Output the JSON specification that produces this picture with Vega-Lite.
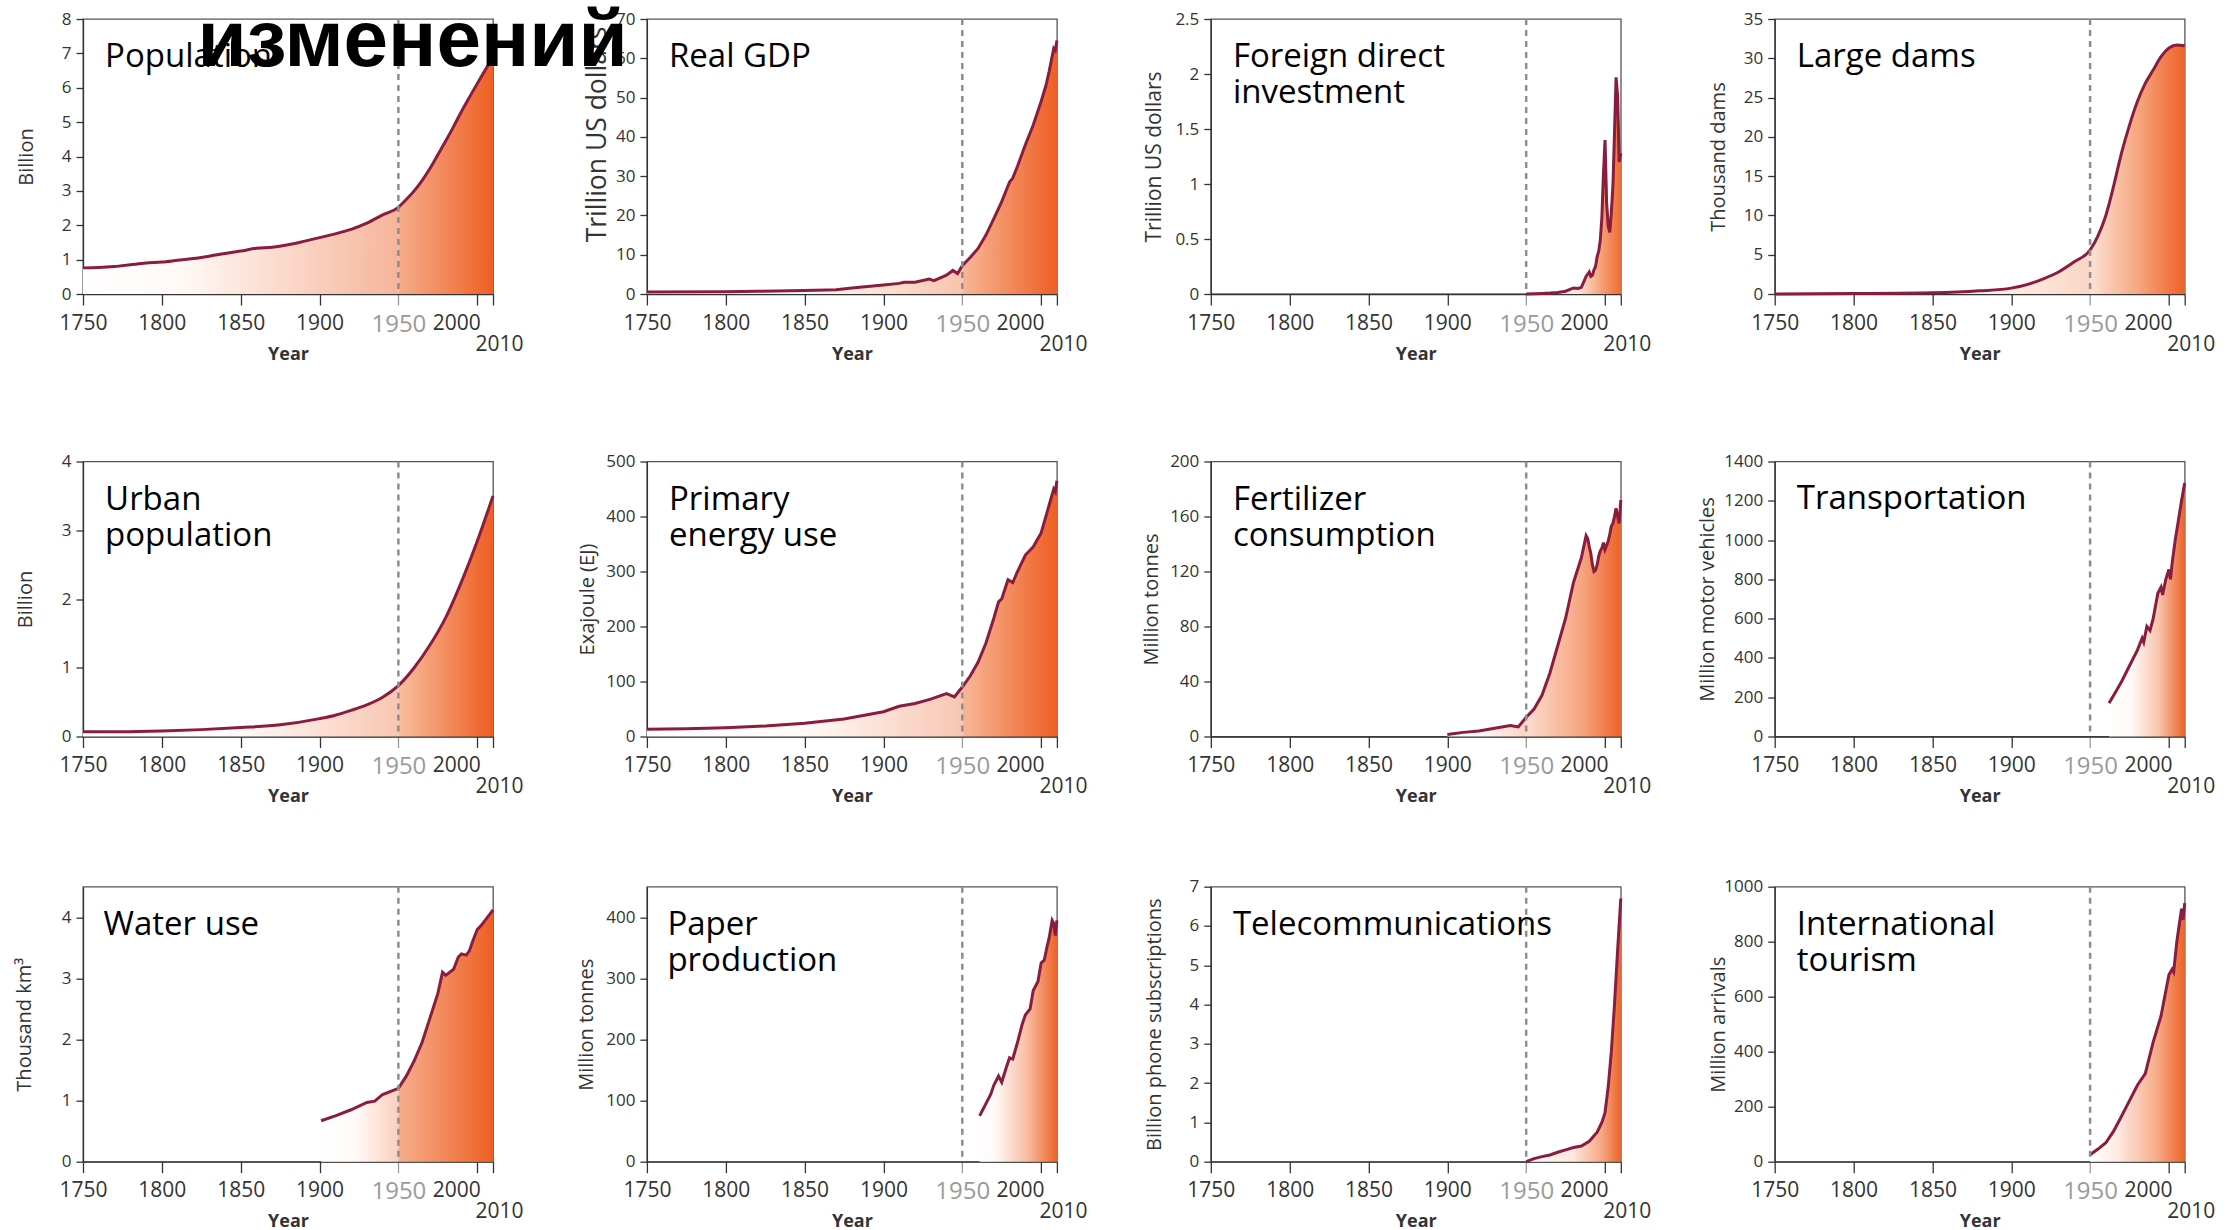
{
  "$schema": "https://vega.github.io/schema/vega-lite/v6.json",
  "background": "white",
  "padding": {"left": 13, "top": 1, "right": 0, "bottom": 0},
  "datasets": {
    "population": [
      {"year": 1750, "value": 0.76}, {"year": 1760, "value": 0.77}, {"year": 1770, "value": 0.8}, {"year": 1780, "value": 0.85},
      {"year": 1790, "value": 0.9}, {"year": 1800, "value": 0.93}, {"year": 1810, "value": 0.98}, {"year": 1820, "value": 1.03},
      {"year": 1830, "value": 1.1}, {"year": 1840, "value": 1.18}, {"year": 1850, "value": 1.25}, {"year": 1860, "value": 1.33},
      {"year": 1870, "value": 1.36}, {"year": 1880, "value": 1.43}, {"year": 1890, "value": 1.53}, {"year": 1900, "value": 1.64},
      {"year": 1910, "value": 1.75}, {"year": 1920, "value": 1.88}, {"year": 1930, "value": 2.06}, {"year": 1940, "value": 2.3},
      {"year": 1950, "value": 2.52}, {"year": 1955, "value": 2.75}, {"year": 1960, "value": 3.0}, {"year": 1965, "value": 3.3},
      {"year": 1970, "value": 3.65}, {"year": 1975, "value": 4.05}, {"year": 1980, "value": 4.45}, {"year": 1985, "value": 4.87},
      {"year": 1990, "value": 5.31}, {"year": 1995, "value": 5.72}, {"year": 2000, "value": 6.12}, {"year": 2005, "value": 6.51},
      {"year": 2010, "value": 6.9}
    ],
    "gdp": [
      {"year": 1750, "value": 0.5}, {"year": 1800, "value": 0.6}, {"year": 1820, "value": 0.7}, {"year": 1850, "value": 0.9},
      {"year": 1870, "value": 1.1}, {"year": 1880, "value": 1.5}, {"year": 1890, "value": 1.9}, {"year": 1900, "value": 2.3},
      {"year": 1910, "value": 2.7}, {"year": 1913, "value": 3.0}, {"year": 1920, "value": 3.0}, {"year": 1929, "value": 3.8},
      {"year": 1932, "value": 3.4}, {"year": 1940, "value": 4.8}, {"year": 1944, "value": 6.0}, {"year": 1947, "value": 5.2},
      {"year": 1950, "value": 7.2}, {"year": 1955, "value": 9.3}, {"year": 1960, "value": 11.6}, {"year": 1965, "value": 15.0},
      {"year": 1970, "value": 19.2}, {"year": 1975, "value": 23.5}, {"year": 1980, "value": 28.5}, {"year": 1982, "value": 29.5},
      {"year": 1985, "value": 32.5}, {"year": 1990, "value": 38.0}, {"year": 1995, "value": 43.0}, {"year": 2000, "value": 49.0},
      {"year": 2003, "value": 53.0}, {"year": 2005, "value": 56.5}, {"year": 2008, "value": 62.5}, {"year": 2009, "value": 62.0},
      {"year": 2010, "value": 64.5}
    ],
    "fdi": [
      {"year": 1950, "value": 0.0}, {"year": 1955, "value": 0.003}, {"year": 1960, "value": 0.005}, {"year": 1965, "value": 0.008},
      {"year": 1970, "value": 0.013}, {"year": 1975, "value": 0.025}, {"year": 1980, "value": 0.055}, {"year": 1983, "value": 0.05},
      {"year": 1985, "value": 0.06}, {"year": 1988, "value": 0.16}, {"year": 1990, "value": 0.2}, {"year": 1991, "value": 0.16},
      {"year": 1992, "value": 0.17}, {"year": 1993, "value": 0.22}, {"year": 1994, "value": 0.25}, {"year": 1995, "value": 0.34},
      {"year": 1996, "value": 0.39}, {"year": 1997, "value": 0.49}, {"year": 1998, "value": 0.7}, {"year": 1999, "value": 1.09},
      {"year": 2000, "value": 1.4}, {"year": 2001, "value": 0.83}, {"year": 2002, "value": 0.62}, {"year": 2003, "value": 0.56},
      {"year": 2004, "value": 0.74}, {"year": 2005, "value": 0.98}, {"year": 2006, "value": 1.46}, {"year": 2007, "value": 1.97},
      {"year": 2008, "value": 1.8}, {"year": 2009, "value": 1.2}, {"year": 2010, "value": 1.28}
    ],
    "dams": [
      {"year": 1750, "value": 0.0}, {"year": 1800, "value": 0.05}, {"year": 1850, "value": 0.15}, {"year": 1880, "value": 0.4},
      {"year": 1900, "value": 0.75}, {"year": 1910, "value": 1.2}, {"year": 1920, "value": 1.9}, {"year": 1930, "value": 2.8},
      {"year": 1940, "value": 4.1}, {"year": 1950, "value": 5.6}, {"year": 1955, "value": 7.4}, {"year": 1960, "value": 10.0},
      {"year": 1965, "value": 13.8}, {"year": 1970, "value": 18.0}, {"year": 1975, "value": 21.5}, {"year": 1980, "value": 24.5},
      {"year": 1985, "value": 26.8}, {"year": 1990, "value": 28.5}, {"year": 1995, "value": 30.2}, {"year": 2000, "value": 31.3},
      {"year": 2005, "value": 31.7}, {"year": 2010, "value": 31.6}
    ],
    "urban": [
      {"year": 1750, "value": 0.07}, {"year": 1775, "value": 0.07}, {"year": 1800, "value": 0.08}, {"year": 1825, "value": 0.1},
      {"year": 1850, "value": 0.13}, {"year": 1875, "value": 0.17}, {"year": 1900, "value": 0.26}, {"year": 1910, "value": 0.31},
      {"year": 1920, "value": 0.38}, {"year": 1930, "value": 0.46}, {"year": 1940, "value": 0.57}, {"year": 1950, "value": 0.74},
      {"year": 1960, "value": 1.0}, {"year": 1970, "value": 1.33}, {"year": 1980, "value": 1.73}, {"year": 1990, "value": 2.25},
      {"year": 2000, "value": 2.84}, {"year": 2010, "value": 3.5}
    ],
    "energy": [
      {"year": 1750, "value": 13}, {"year": 1775, "value": 14}, {"year": 1800, "value": 16}, {"year": 1825, "value": 19},
      {"year": 1850, "value": 24}, {"year": 1875, "value": 32}, {"year": 1900, "value": 45}, {"year": 1910, "value": 55},
      {"year": 1920, "value": 60}, {"year": 1930, "value": 68}, {"year": 1940, "value": 78}, {"year": 1945, "value": 72},
      {"year": 1950, "value": 90}, {"year": 1955, "value": 110}, {"year": 1960, "value": 135}, {"year": 1965, "value": 170},
      {"year": 1970, "value": 215}, {"year": 1973, "value": 245}, {"year": 1975, "value": 250}, {"year": 1979, "value": 285},
      {"year": 1982, "value": 280}, {"year": 1985, "value": 300}, {"year": 1990, "value": 330}, {"year": 1995, "value": 345},
      {"year": 2000, "value": 370}, {"year": 2005, "value": 420}, {"year": 2008, "value": 450}, {"year": 2009, "value": 445},
      {"year": 2010, "value": 465}
    ],
    "fertilizer": [
      {"year": 1900, "value": 1.5}, {"year": 1910, "value": 3}, {"year": 1920, "value": 4}, {"year": 1930, "value": 6},
      {"year": 1940, "value": 8}, {"year": 1945, "value": 7}, {"year": 1950, "value": 14}, {"year": 1955, "value": 20},
      {"year": 1960, "value": 30}, {"year": 1965, "value": 46}, {"year": 1970, "value": 66}, {"year": 1975, "value": 86},
      {"year": 1980, "value": 112}, {"year": 1985, "value": 130}, {"year": 1988, "value": 146}, {"year": 1989, "value": 144},
      {"year": 1990, "value": 138}, {"year": 1991, "value": 133}, {"year": 1992, "value": 125}, {"year": 1993, "value": 120},
      {"year": 1994, "value": 121}, {"year": 1995, "value": 125}, {"year": 1996, "value": 131}, {"year": 1997, "value": 135},
      {"year": 1998, "value": 137}, {"year": 1999, "value": 141}, {"year": 2000, "value": 136}, {"year": 2001, "value": 139},
      {"year": 2002, "value": 142}, {"year": 2003, "value": 147}, {"year": 2004, "value": 153}, {"year": 2005, "value": 155},
      {"year": 2006, "value": 160}, {"year": 2007, "value": 166}, {"year": 2008, "value": 160}, {"year": 2009, "value": 155},
      {"year": 2010, "value": 172}
    ],
    "transport": [
      {"year": 1962, "value": 170}, {"year": 1965, "value": 210}, {"year": 1970, "value": 280}, {"year": 1975, "value": 360},
      {"year": 1980, "value": 440}, {"year": 1983, "value": 500}, {"year": 1984, "value": 480}, {"year": 1986, "value": 560},
      {"year": 1988, "value": 540}, {"year": 1990, "value": 600}, {"year": 1993, "value": 730}, {"year": 1995, "value": 760},
      {"year": 1996, "value": 720}, {"year": 1998, "value": 800}, {"year": 2000, "value": 850}, {"year": 2001, "value": 800},
      {"year": 2002, "value": 880}, {"year": 2004, "value": 1000}, {"year": 2006, "value": 1100}, {"year": 2008, "value": 1200},
      {"year": 2010, "value": 1290}
    ],
    "water": [
      {"year": 1901, "value": 0.67}, {"year": 1910, "value": 0.75}, {"year": 1920, "value": 0.85}, {"year": 1930, "value": 0.97},
      {"year": 1935, "value": 0.99}, {"year": 1940, "value": 1.1}, {"year": 1950, "value": 1.2}, {"year": 1955, "value": 1.4},
      {"year": 1960, "value": 1.65}, {"year": 1965, "value": 1.95}, {"year": 1970, "value": 2.35}, {"year": 1975, "value": 2.75},
      {"year": 1978, "value": 3.1}, {"year": 1980, "value": 3.05}, {"year": 1985, "value": 3.15}, {"year": 1988, "value": 3.35},
      {"year": 1990, "value": 3.4}, {"year": 1993, "value": 3.38}, {"year": 1995, "value": 3.45}, {"year": 1997, "value": 3.6},
      {"year": 2000, "value": 3.8}, {"year": 2002, "value": 3.85}, {"year": 2005, "value": 3.95}, {"year": 2008, "value": 4.05},
      {"year": 2010, "value": 4.12}
    ],
    "paper": [
      {"year": 1961, "value": 75}, {"year": 1963, "value": 85}, {"year": 1965, "value": 95}, {"year": 1968, "value": 110},
      {"year": 1970, "value": 125}, {"year": 1973, "value": 140}, {"year": 1975, "value": 130}, {"year": 1978, "value": 155},
      {"year": 1980, "value": 170}, {"year": 1982, "value": 168}, {"year": 1985, "value": 195}, {"year": 1988, "value": 225},
      {"year": 1990, "value": 240}, {"year": 1993, "value": 250}, {"year": 1995, "value": 280}, {"year": 1998, "value": 295},
      {"year": 2000, "value": 325}, {"year": 2002, "value": 330}, {"year": 2004, "value": 355}, {"year": 2005, "value": 365},
      {"year": 2007, "value": 395}, {"year": 2008, "value": 390}, {"year": 2009, "value": 370}, {"year": 2010, "value": 395}
    ],
    "telecom": [
      {"year": 1950, "value": 0.0}, {"year": 1955, "value": 0.08}, {"year": 1960, "value": 0.13}, {"year": 1965, "value": 0.17},
      {"year": 1970, "value": 0.24}, {"year": 1975, "value": 0.3}, {"year": 1980, "value": 0.36}, {"year": 1985, "value": 0.4},
      {"year": 1990, "value": 0.52}, {"year": 1995, "value": 0.75}, {"year": 1998, "value": 1.0}, {"year": 2000, "value": 1.25},
      {"year": 2002, "value": 1.9}, {"year": 2004, "value": 2.8}, {"year": 2006, "value": 4.0}, {"year": 2008, "value": 5.4},
      {"year": 2010, "value": 6.7}
    ],
    "tourism": [
      {"year": 1950, "value": 25}, {"year": 1955, "value": 46}, {"year": 1960, "value": 69}, {"year": 1965, "value": 112},
      {"year": 1970, "value": 166}, {"year": 1975, "value": 222}, {"year": 1980, "value": 278}, {"year": 1985, "value": 320},
      {"year": 1990, "value": 435}, {"year": 1995, "value": 530}, {"year": 2000, "value": 680}, {"year": 2002, "value": 700},
      {"year": 2003, "value": 690}, {"year": 2005, "value": 800}, {"year": 2008, "value": 920}, {"year": 2009, "value": 880},
      {"year": 2010, "value": 940}
    ]
  },
  "spacing": 87.5,
  "vconcat": [
    {
      "bounds": "flush",
      "spacing": 153.9,
      "hconcat": [
        {
          "width": 410, "height": 275,
          "layer": [
            {
              "data": {"name": "population"},
              "encoding": {
                "x": {"field": "year", "type": "quantitative", "scale": {"domain": [1750, 2010], "nice": false, "zero": false}, "axis": {"values": [1750, 1800, 1850, 1900, 1950, 2000, 2010], "format": "d", "title": "Year"}},
                "y": {"field": "value", "type": "quantitative", "scale": {"domain": [0, 8], "nice": false}, "axis": {"values": [0, 1, 2, 3, 4, 5, 6, 7, 8], "tickCount": 20, "format": "d", "title": "Billion", "titleX": -47}}
              },
              "layer": [
                {"transform": [{"filter": "datum.year <= 1950"}], "mark": {"type": "area", "interpolate": "monotone", "fill": {"gradient": "linear", "x1": 0, "y1": 0, "x2": 1, "y2": 0, "stops": [{"offset": 0, "color": "#ffffff"}, {"offset": 0.3, "color": "#fffaf7"}, {"offset": 1, "color": "#f6b59b"}]}}},
                {"transform": [{"filter": "datum.year >= 1950"}], "mark": {"type": "area", "interpolate": "monotone", "fill": {"gradient": "linear", "x1": 0, "y1": 0, "x2": 1, "y2": 0, "stops": [{"offset": 0, "color": "#f6ad8b"}, {"offset": 0.8, "color": "#f0703a"}, {"offset": 1, "color": "#ee5f23"}]}}},
                {"mark": {"type": "line", "interpolate": "monotone", "color": "#8a1c3e", "strokeWidth": 3}}
              ]
            },
            {"data": {"values": [{}]}, "mark": {"type": "rule", "color": "#8e8e8e", "strokeWidth": 2.5, "strokeDash": [6, 5]}, "encoding": {"x": {"datum": 1950}}},
            {"data": {"values": [{"label": "Population"}]}, "mark": {"type": "text", "style": "panelLabel"}, "encoding": {"x": {"datum": 1764}, "y": {"datum": 6.6}, "text": {"field": "label"}}}
          ]
        },
        {
          "width": 410, "height": 275,
          "layer": [
            {
              "data": {"name": "gdp"},
              "encoding": {
                "x": {"field": "year", "type": "quantitative", "scale": {"domain": [1750, 2010], "nice": false, "zero": false}, "axis": {"values": [1750, 1800, 1850, 1900, 1950, 2000, 2010], "format": "d", "title": "Year"}},
                "y": {"field": "value", "type": "quantitative", "scale": {"domain": [0, 70], "nice": false}, "axis": {"values": [0, 10, 20, 30, 40, 50, 60, 70], "tickCount": 20, "format": "d", "title": "Trillion US dollars", "titleFontSize": 26.5, "titleX": -35, "titleY": 115}}
              },
              "layer": [
                {"transform": [{"filter": "datum.year <= 1950"}], "mark": {"type": "area", "fill": {"gradient": "linear", "x1": 0, "y1": 0, "x2": 1, "y2": 0, "stops": [{"offset": 0, "color": "#ffffff"}, {"offset": 0.5, "color": "#fffaf7"}, {"offset": 1, "color": "#f8c4ad"}]}}},
                {"transform": [{"filter": "datum.year >= 1950"}], "mark": {"type": "area", "fill": {"gradient": "linear", "x1": 0, "y1": 0, "x2": 1, "y2": 0, "stops": [{"offset": 0, "color": "#f7b797"}, {"offset": 0.8, "color": "#f0703a"}, {"offset": 1, "color": "#ee5f23"}]}}},
                {"mark": {"type": "line", "color": "#8a1c3e", "strokeWidth": 3}}
              ]
            },
            {"data": {"values": [{}]}, "mark": {"type": "rule", "color": "#8e8e8e", "strokeWidth": 2.5, "strokeDash": [6, 5]}, "encoding": {"x": {"datum": 1950}}},
            {"data": {"values": [{"label": "Real GDP"}]}, "mark": {"type": "text", "style": "panelLabel"}, "encoding": {"x": {"datum": 1764}, "y": {"datum": 57.8}, "text": {"field": "label"}}},
            {"data": {"values": [{"label": "изменений"}]}, "mark": {"type": "text", "style": "heading"}, "encoding": {"x": {"datum": 1465}, "y": {"datum": 58.0}, "text": {"field": "label"}}}
          ]
        },
        {
          "width": 410, "height": 275,
          "layer": [
            {
              "data": {"name": "fdi"},
              "encoding": {
                "x": {"field": "year", "type": "quantitative", "scale": {"domain": [1750, 2010], "nice": false, "zero": false}, "axis": {"values": [1750, 1800, 1850, 1900, 1950, 2000, 2010], "format": "d", "title": "Year"}},
                "y": {"field": "value", "type": "quantitative", "scale": {"domain": [0, 2.5], "nice": false}, "axis": {"values": [0, 0.5, 1, 1.5, 2, 2.5], "tickCount": 20, "format": ".1~f", "title": "Trillion US dollars", "titleFontSize": 21, "titleX": -46}}
              },
              "layer": [
                {"mark": {"type": "area", "fill": {"gradient": "linear", "x1": 0, "y1": 0, "x2": 1, "y2": 0, "stops": [{"offset": 0, "color": "#ffffff"}, {"offset": 0.55, "color": "#fde4d8"}, {"offset": 0.8, "color": "#f5a074"}, {"offset": 1, "color": "#ef6c30"}]}}},
                {"mark": {"type": "line", "color": "#8a1c3e", "strokeWidth": 3}}
              ]
            },
            {"data": {"values": [{}]}, "mark": {"type": "rule", "color": "#8e8e8e", "strokeWidth": 2.5, "strokeDash": [6, 5]}, "encoding": {"x": {"datum": 1950}}},
            {"data": {"values": [{"label": "Foreign direct\ninvestment"}]}, "mark": {"type": "text", "style": "panelLabel"}, "encoding": {"x": {"datum": 1764}, "y": {"datum": 2.06}, "text": {"field": "label"}}}
          ]
        },
        {
          "width": 410, "height": 275,
          "layer": [
            {
              "data": {"name": "dams"},
              "encoding": {
                "x": {"field": "year", "type": "quantitative", "scale": {"domain": [1750, 2010], "nice": false, "zero": false}, "axis": {"values": [1750, 1800, 1850, 1900, 1950, 2000, 2010], "format": "d", "title": "Year"}},
                "y": {"field": "value", "type": "quantitative", "scale": {"domain": [0, 35], "nice": false}, "axis": {"values": [0, 5, 10, 15, 20, 25, 30, 35], "tickCount": 20, "format": "d", "title": "Thousand dams", "titleX": -46}}
              },
              "layer": [
                {"transform": [{"filter": "datum.year <= 1950"}], "mark": {"type": "area", "interpolate": "monotone", "fill": {"gradient": "linear", "x1": 0, "y1": 0, "x2": 1, "y2": 0, "stops": [{"offset": 0, "color": "#ffffff"}, {"offset": 0.6, "color": "#fffaf7"}, {"offset": 1, "color": "#fbd5c5"}]}}},
                {"transform": [{"filter": "datum.year >= 1950"}], "mark": {"type": "area", "interpolate": "monotone", "fill": {"gradient": "linear", "x1": 0, "y1": 0, "x2": 1, "y2": 0, "stops": [{"offset": 0, "color": "#fde2d6"}, {"offset": 0.5, "color": "#f6a781"}, {"offset": 1, "color": "#ee6126"}]}}},
                {"mark": {"type": "line", "interpolate": "monotone", "color": "#8a1c3e", "strokeWidth": 3}}
              ]
            },
            {"data": {"values": [{}]}, "mark": {"type": "rule", "color": "#8e8e8e", "strokeWidth": 2.5, "strokeDash": [6, 5]}, "encoding": {"x": {"datum": 1950}}},
            {"data": {"values": [{"label": "Large dams"}]}, "mark": {"type": "text", "style": "panelLabel"}, "encoding": {"x": {"datum": 1764}, "y": {"datum": 28.9}, "text": {"field": "label"}}}
          ]
        }
      ]
    },
    {
      "spacing": 70.2,
      "vconcat": [
        {
          "bounds": "flush",
          "spacing": 153.9,
          "hconcat": [
            {
              "width": 410, "height": 275,
              "layer": [
                {
                  "data": {"name": "urban"},
                  "encoding": {
                    "x": {"field": "year", "type": "quantitative", "scale": {"domain": [1750, 2010], "nice": false, "zero": false}, "axis": {"values": [1750, 1800, 1850, 1900, 1950, 2000, 2010], "format": "d", "title": "Year"}},
                    "y": {"field": "value", "type": "quantitative", "scale": {"domain": [0, 4], "nice": false}, "axis": {"values": [0, 1, 2, 3, 4], "tickCount": 20, "format": "d", "title": "Billion", "titleX": -48}}
                  },
                  "layer": [
                    {"transform": [{"filter": "datum.year <= 1950"}], "mark": {"type": "area", "interpolate": "monotone", "fill": {"gradient": "linear", "x1": 0, "y1": 0, "x2": 1, "y2": 0, "stops": [{"offset": 0, "color": "#ffffff"}, {"offset": 0.5, "color": "#fffaf7"}, {"offset": 1, "color": "#f8c6b2"}]}}},
                    {"transform": [{"filter": "datum.year >= 1950"}], "mark": {"type": "area", "interpolate": "monotone", "fill": {"gradient": "linear", "x1": 0, "y1": 0, "x2": 1, "y2": 0, "stops": [{"offset": 0, "color": "#f8bf9f"}, {"offset": 0.8, "color": "#f0703a"}, {"offset": 1, "color": "#ee5f23"}]}}},
                    {"mark": {"type": "line", "interpolate": "monotone", "color": "#8a1c3e", "strokeWidth": 3}}
                  ]
                },
                {"data": {"values": [{}]}, "mark": {"type": "rule", "color": "#8e8e8e", "strokeWidth": 2.5, "strokeDash": [6, 5]}, "encoding": {"x": {"datum": 1950}}},
                {"data": {"values": [{"label": "Urban\npopulation"}]}, "mark": {"type": "text", "style": "panelLabel"}, "encoding": {"x": {"datum": 1764}, "y": {"datum": 3.3}, "text": {"field": "label"}}}
              ]
            },
            {
              "width": 410, "height": 275,
              "layer": [
                {
                  "data": {"name": "energy"},
                  "encoding": {
                    "x": {"field": "year", "type": "quantitative", "scale": {"domain": [1750, 2010], "nice": false, "zero": false}, "axis": {"values": [1750, 1800, 1850, 1900, 1950, 2000, 2010], "format": "d", "title": "Year"}},
                    "y": {"field": "value", "type": "quantitative", "scale": {"domain": [0, 500], "nice": false}, "axis": {"values": [0, 100, 200, 300, 400, 500], "tickCount": 20, "format": "d", "title": "Exajoule (EJ)", "titleX": -49}}
                  },
                  "layer": [
                    {"transform": [{"filter": "datum.year <= 1950"}], "mark": {"type": "area", "fill": {"gradient": "linear", "x1": 0, "y1": 0, "x2": 1, "y2": 0, "stops": [{"offset": 0, "color": "#ffffff"}, {"offset": 0.5, "color": "#fffaf7"}, {"offset": 1, "color": "#f8c6b2"}]}}},
                    {"transform": [{"filter": "datum.year >= 1950"}], "mark": {"type": "area", "fill": {"gradient": "linear", "x1": 0, "y1": 0, "x2": 1, "y2": 0, "stops": [{"offset": 0, "color": "#f8b898"}, {"offset": 0.8, "color": "#f0703a"}, {"offset": 1, "color": "#ee5f23"}]}}},
                    {"mark": {"type": "line", "color": "#8a1c3e", "strokeWidth": 3}}
                  ]
                },
                {"data": {"values": [{}]}, "mark": {"type": "rule", "color": "#8e8e8e", "strokeWidth": 2.5, "strokeDash": [6, 5]}, "encoding": {"x": {"datum": 1950}}},
                {"data": {"values": [{"label": "Primary\nenergy use"}]}, "mark": {"type": "text", "style": "panelLabel"}, "encoding": {"x": {"datum": 1764}, "y": {"datum": 412.7}, "text": {"field": "label"}}}
              ]
            },
            {
              "width": 410, "height": 275,
              "layer": [
                {
                  "data": {"name": "fertilizer"},
                  "encoding": {
                    "x": {"field": "year", "type": "quantitative", "scale": {"domain": [1750, 2010], "nice": false, "zero": false}, "axis": {"values": [1750, 1800, 1850, 1900, 1950, 2000, 2010], "format": "d", "title": "Year"}},
                    "y": {"field": "value", "type": "quantitative", "scale": {"domain": [0, 200], "nice": false}, "axis": {"values": [0, 40, 80, 120, 160, 200], "tickCount": 20, "format": "d", "title": "Million tonnes", "titleX": -49}}
                  },
                  "layer": [
                    {"transform": [{"filter": "datum.year <= 1950"}], "mark": {"type": "area", "fill": {"gradient": "linear", "x1": 0, "y1": 0, "x2": 1, "y2": 0, "stops": [{"offset": 0, "color": "#ffffff"}, {"offset": 0.4, "color": "#fffaf7"}, {"offset": 1, "color": "#fbd3c3"}]}}},
                    {"transform": [{"filter": "datum.year >= 1950"}], "mark": {"type": "area", "fill": {"gradient": "linear", "x1": 0, "y1": 0, "x2": 1, "y2": 0, "stops": [{"offset": 0, "color": "#fcdccd"}, {"offset": 0.6, "color": "#f6a47e"}, {"offset": 1, "color": "#ee6328"}]}}},
                    {"mark": {"type": "line", "color": "#8a1c3e", "strokeWidth": 3}}
                  ]
                },
                {"data": {"values": [{}]}, "mark": {"type": "rule", "color": "#8e8e8e", "strokeWidth": 2.5, "strokeDash": [6, 5]}, "encoding": {"x": {"datum": 1950}}},
                {"data": {"values": [{"label": "Fertilizer\nconsumption"}]}, "mark": {"type": "text", "style": "panelLabel"}, "encoding": {"x": {"datum": 1764}, "y": {"datum": 165}, "text": {"field": "label"}}}
              ]
            },
            {
              "width": 410, "height": 275,
              "layer": [
                {
                  "data": {"name": "transport"},
                  "encoding": {
                    "x": {"field": "year", "type": "quantitative", "scale": {"domain": [1750, 2010], "nice": false, "zero": false}, "axis": {"values": [1750, 1800, 1850, 1900, 1950, 2000, 2010], "format": "d", "title": "Year"}},
                    "y": {"field": "value", "type": "quantitative", "scale": {"domain": [0, 1400], "nice": false}, "axis": {"values": [0, 200, 400, 600, 800, 1000, 1200, 1400], "tickCount": 20, "format": "d", "title": "Million motor vehicles", "titleX": -57}}
                  },
                  "layer": [
                    {"mark": {"type": "area", "fill": {"gradient": "linear", "x1": 0, "y1": 0, "x2": 1, "y2": 0, "stops": [{"offset": 0, "color": "#ffffff"}, {"offset": 0.3, "color": "#fffaf7"}, {"offset": 0.65, "color": "#f9c6ad"}, {"offset": 1, "color": "#ee6328"}]}}},
                    {"mark": {"type": "line", "color": "#8a1c3e", "strokeWidth": 3}}
                  ]
                },
                {"data": {"values": [{}]}, "mark": {"type": "rule", "color": "#8e8e8e", "strokeWidth": 2.5, "strokeDash": [6, 5]}, "encoding": {"x": {"datum": 1950}}},
                {"data": {"values": [{"label": "Transportation"}]}, "mark": {"type": "text", "style": "panelLabel"}, "encoding": {"x": {"datum": 1764}, "y": {"datum": 1155.7}, "text": {"field": "label"}}}
              ]
            }
          ]
        },
        {
          "bounds": "flush",
          "spacing": 153.9,
          "hconcat": [
            {
              "width": 410, "height": 275,
              "layer": [
                {
                  "data": {"name": "water"},
                  "encoding": {
                    "x": {"field": "year", "type": "quantitative", "scale": {"domain": [1750, 2010], "nice": false, "zero": false}, "axis": {"values": [1750, 1800, 1850, 1900, 1950, 2000, 2010], "format": "d", "title": "Year"}},
                    "y": {"field": "value", "type": "quantitative", "scale": {"domain": [0, 4.5], "nice": false}, "axis": {"values": [0, 1, 2, 3, 4], "tickCount": 20, "format": "d", "title": "Thousand km³", "titleX": -49}}
                  },
                  "layer": [
                    {"transform": [{"filter": "datum.year <= 1950"}], "mark": {"type": "area", "fill": {"gradient": "linear", "x1": 0, "y1": 0, "x2": 1, "y2": 0, "stops": [{"offset": 0, "color": "#ffffff"}, {"offset": 0.45, "color": "#fffaf7"}, {"offset": 1, "color": "#fbcfbd"}]}}},
                    {"transform": [{"filter": "datum.year >= 1950"}], "mark": {"type": "area", "fill": {"gradient": "linear", "x1": 0, "y1": 0, "x2": 1, "y2": 0, "stops": [{"offset": 0, "color": "#f6ae8c"}, {"offset": 0.8, "color": "#f0703a"}, {"offset": 1, "color": "#ee5f23"}]}}},
                    {"mark": {"type": "line", "color": "#8a1c3e", "strokeWidth": 3}}
                  ]
                },
                {"data": {"values": [{}]}, "mark": {"type": "rule", "color": "#8e8e8e", "strokeWidth": 2.5, "strokeDash": [6, 5]}, "encoding": {"x": {"datum": 1950}}},
                {"data": {"values": [{"label": "Water use"}]}, "mark": {"type": "text", "style": "panelLabel"}, "encoding": {"x": {"datum": 1763}, "y": {"datum": 3.71}, "text": {"field": "label"}}}
              ]
            },
            {
              "width": 410, "height": 275,
              "layer": [
                {
                  "data": {"name": "paper"},
                  "encoding": {
                    "x": {"field": "year", "type": "quantitative", "scale": {"domain": [1750, 2010], "nice": false, "zero": false}, "axis": {"values": [1750, 1800, 1850, 1900, 1950, 2000, 2010], "format": "d", "title": "Year"}},
                    "y": {"field": "value", "type": "quantitative", "scale": {"domain": [0, 450], "nice": false}, "axis": {"values": [0, 100, 200, 300, 400], "tickCount": 20, "format": "d", "title": "Million tonnes", "titleX": -50}}
                  },
                  "layer": [
                    {"mark": {"type": "area", "fill": {"gradient": "linear", "x1": 0, "y1": 0, "x2": 1, "y2": 0, "stops": [{"offset": 0, "color": "#ffffff"}, {"offset": 0.2, "color": "#fffaf7"}, {"offset": 0.6, "color": "#f8c0a5"}, {"offset": 1, "color": "#ee6328"}]}}},
                    {"mark": {"type": "line", "color": "#8a1c3e", "strokeWidth": 3}}
                  ]
                },
                {"data": {"values": [{}]}, "mark": {"type": "rule", "color": "#8e8e8e", "strokeWidth": 2.5, "strokeDash": [6, 5]}, "encoding": {"x": {"datum": 1950}}},
                {"data": {"values": [{"label": "Paper\nproduction"}]}, "mark": {"type": "text", "style": "panelLabel"}, "encoding": {"x": {"datum": 1763}, "y": {"datum": 371}, "text": {"field": "label"}}}
              ]
            },
            {
              "width": 410, "height": 275,
              "layer": [
                {
                  "data": {"name": "telecom"},
                  "encoding": {
                    "x": {"field": "year", "type": "quantitative", "scale": {"domain": [1750, 2010], "nice": false, "zero": false}, "axis": {"values": [1750, 1800, 1850, 1900, 1950, 2000, 2010], "format": "d", "title": "Year"}},
                    "y": {"field": "value", "type": "quantitative", "scale": {"domain": [0, 7], "nice": false}, "axis": {"values": [0, 1, 2, 3, 4, 5, 6, 7], "tickCount": 20, "format": "d", "title": "Billion phone subscriptions", "titleX": -46}}
                  },
                  "layer": [
                    {"mark": {"type": "area", "fill": {"gradient": "linear", "x1": 0, "y1": 0, "x2": 1, "y2": 0, "stops": [{"offset": 0, "color": "#ffffff"}, {"offset": 0.5, "color": "#fde6dc"}, {"offset": 0.8, "color": "#f6a882"}, {"offset": 1, "color": "#ee6328"}]}}},
                    {"mark": {"type": "line", "color": "#8a1c3e", "strokeWidth": 3}}
                  ]
                },
                {"data": {"values": [{}]}, "mark": {"type": "rule", "color": "#8e8e8e", "strokeWidth": 2.5, "strokeDash": [6, 5]}, "encoding": {"x": {"datum": 1950}}},
                {"data": {"values": [{"label": "Telecommunications"}]}, "mark": {"type": "text", "style": "panelLabel"}, "encoding": {"x": {"datum": 1764}, "y": {"datum": 5.78}, "text": {"field": "label"}}}
              ]
            },
            {
              "width": 410, "height": 275,
              "layer": [
                {
                  "data": {"name": "tourism"},
                  "encoding": {
                    "x": {"field": "year", "type": "quantitative", "scale": {"domain": [1750, 2010], "nice": false, "zero": false}, "axis": {"values": [1750, 1800, 1850, 1900, 1950, 2000, 2010], "format": "d", "title": "Year"}},
                    "y": {"field": "value", "type": "quantitative", "scale": {"domain": [0, 1000], "nice": false}, "axis": {"values": [0, 200, 400, 600, 800, 1000], "tickCount": 20, "format": "d", "title": "Million arrivals", "titleX": -46}}
                  },
                  "layer": [
                    {"mark": {"type": "area", "fill": {"gradient": "linear", "x1": 0, "y1": 0, "x2": 1, "y2": 0, "stops": [{"offset": 0, "color": "#ffffff"}, {"offset": 0.3, "color": "#fde9e0"}, {"offset": 0.7, "color": "#f7ad8a"}, {"offset": 1, "color": "#ee6328"}]}}},
                    {"mark": {"type": "line", "color": "#8a1c3e", "strokeWidth": 3}}
                  ]
                },
                {"data": {"values": [{}]}, "mark": {"type": "rule", "color": "#8e8e8e", "strokeWidth": 2.5, "strokeDash": [6, 5]}, "encoding": {"x": {"datum": 1950}}},
                {"data": {"values": [{"label": "International\ntourism"}]}, "mark": {"type": "text", "style": "panelLabel"}, "encoding": {"x": {"datum": 1764}, "y": {"datum": 825.5}, "text": {"field": "label"}}}
              ]
            }
          ]
        }
      ]
    }
  ],
  "config": {
    "font": "Open Sans",
    "view": {"stroke": "#555555", "strokeWidth": 1.3},
    "axis": {
      "grid": false,
      "domainColor": "#333333",
      "domainWidth": 1.3,
      "tickWidth": 1.3,
      "labelFont": "Open Sans",
      "titleFont": "Open Sans",
      "titleColor": "#333333"
    },
    "axisX": {
      "tickSize": 11,
      "labelOverlap": false,
      "labelFlush": false,
      "labelFontSize": {"condition": {"test": "datum.value == 1950", "value": 24}, "value": 21},
      "labelColor": {"condition": {"test": "datum.value == 1950", "value": "#9a9a9a"}, "value": "#333333"},
      "tickColor": {"condition": {"test": "datum.value == 1950", "value": "#9a9a9a"}, "value": "#333333"},
      "labelPadding": {"condition": {"test": "datum.value == 2010", "value": 28}, "value": 7},
      "labelAlign": {"condition": {"test": "datum.value == 2000", "value": "right"}, "value": "center"},
      "labelOffset": {"condition": [{"test": "datum.value == 2000", "value": 3}, {"test": "datum.value == 2010", "value": 6}], "value": 0},
      "titleFontSize": 18,
      "titleFontWeight": "bold",
      "titleY": 65,
      "titleBaseline": "alphabetic"
    },
    "axisY": {
      "tickSize": 7,
      "tickColor": "#333333",
      "labelFontSize": 17,
      "labelColor": "#333333",
      "labelPadding": 5,
      "labelOverlap": false,
      "titleFontSize": 20,
      "titleFontWeight": "normal",
      "titleBaseline": "bottom"
    },
    "style": {
      "panelLabel": {"font": "Open Sans", "fontSize": 33, "fill": "#231f20", "align": "left", "baseline": "alphabetic", "lineBreak": "\n", "lineHeight": 36},
      "heading": {"font": "Liberation Sans", "fontSize": 80, "fontWeight": "bold", "fill": "#000000", "align": "left", "baseline": "alphabetic"}
    }
  }
}
